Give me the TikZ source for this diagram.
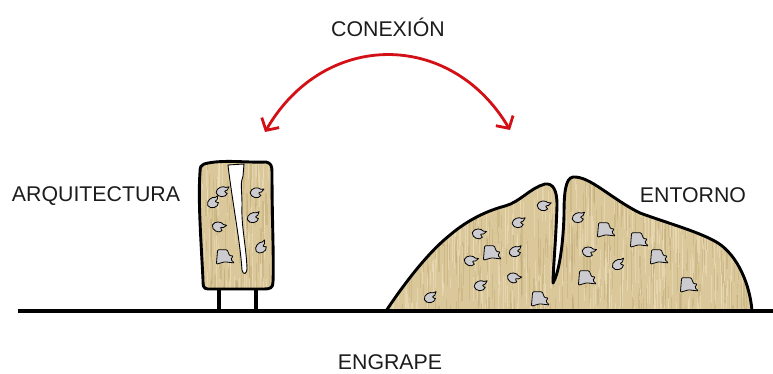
\documentclass[tikz,border=0pt]{standalone}
\usepackage{fontspec}
\setmainfont{Liberation Sans}
\usetikzlibrary{arrows.meta}

\definecolor{woodtan}{RGB}{218,200,154}
\definecolor{wooddark}{RGB}{188,163,112}
\definecolor{woodlight}{RGB}{238,225,192}
\definecolor{stonegrey}{RGB}{204,204,208}
\definecolor{arrowred}{RGB}{210,16,22}
\definecolor{inkgrey}{RGB}{28,28,28}

% outlines reused for fill, clip and stroke
\newcommand{\blockoutline}{(204,164) .. controls (222,159) and (248,163) .. (266,162)
  .. controls (271,163) and (272,166) .. (272,172)
  .. controls (272,220) and (274,260) .. (273,282)
  .. controls (273,288) and (270,289) .. (264,289) -- (208,289)
  .. controls (203,289) and (203,285) .. (203,280)
  .. controls (201,240) and (198,200) .. (200,172)
  .. controls (200,167) and (201,165) .. (204,164) -- cycle}
\newcommand{\blockcrack}{(228,165) .. controls (232,200) and (240,240) .. (242,270)
  .. controls (243,275) and (247,275) .. (247,268)
  .. controls (246,245) and (241,225) .. (242,205)
  .. controls (242,190) and (240,183) .. (243,176) -- (244,164) -- cycle}
\newcommand{\moundoutline}{(386,311) .. controls (400,290) and (425,255) .. (450,235)
  .. controls (470,218) and (490,210) .. (505,206)
  .. controls (520,202) and (530,188) .. (545,184)
  .. controls (553,183) and (557,190) .. (557,205)
  .. controls (556,240) and (553,270) .. (553,283)
  .. controls (558,275) and (563,250) .. (564,215)
  .. controls (564,195) and (565,178) .. (573,177)
  .. controls (590,176) and (610,198) .. (640,213)
  .. controls (670,224) and (700,232) .. (718,243)
  .. controls (738,256) and (750,285) .. (752,311) -- cycle}

\tikzset{
  x=1pt, y=-1pt,
  outline/.style={draw=black, line width=2.9pt, line join=round},
  crackfill/.style={fill=white, draw=black, line width=0.9pt, line join=round},
  groundline/.style={draw=black, line width=4.5pt},
  legline/.style={draw=black, line width=3.6pt},
  stone/.style={fill=stonegrey, draw=black, line width=0.8pt, line join=round},
  caption/.style={font=\fontsize{21.3}{24}\selectfont, text=inkgrey, anchor=base, inner sep=0pt},
  linkarc/.style={draw=arrowred, line width=2.8pt,
    arrows={Straight Barb[length=9pt,width=20pt]-Straight Barb[length=9pt,width=20pt]}},
  pebble/.pic={\path[stone, scale=1.3] (4,-1.5) .. controls (1.5,-0.5) .. (4,1.2)
      .. controls (3,4.5) and (-3.5,4.5) .. (-4.5,0.5)
      .. controls (-4.5,-3.5) and (1,-5) .. (3,-3.5) -- (5.5,-4) -- cycle;},
  rockbit/.pic={\path[stone, scale=1.2, rounded corners=1pt] (-7,-6) -- (1,-6) -- (3,-1) -- (6,-1)
      -- (4,2) -- (7,5) -- (-1,4) -- (-8,6) -- cycle;},
}

\newcommand{\woodgrain}[4]{% x0, width, y0, height
  \foreach \i in {1,...,#2} {
    \pgfmathsetmacro\gx{#1+#2*rnd}
    \pgfmathsetmacro\gy{#3+#4*rnd}
    \pgfmathsetmacro\gl{8+35*rnd}
    \pgfmathsetmacro\gw{0.4+1.2*rnd}
    \draw[wooddark, opacity=0.4, line width=\gw pt] (\gx,\gy) -- ++(0,\gl);
    \pgfmathsetmacro\hx{#1+#2*rnd}
    \pgfmathsetmacro\hy{#3+#4*rnd}
    \draw[woodlight, opacity=0.55, line width=0.9pt] (\hx,\hy) -- ++(0,\gl);
  }}

\begin{document}
\begin{tikzpicture}
\pgfmathsetseed{17}
\useasboundingbox[fill=white] (0,0) rectangle (773,374);

% ground line end points and arrow end points
\coordinate (gl) at (18,311);
\coordinate (gr) at (773,311);
\coordinate (archtop) at (265,132);
\coordinate (envtop) at (510,130);

% --- architecture block ---
\fill[woodtan] \blockoutline;
\begin{scope}
  \clip \blockoutline;
  \woodgrain{198}{78}{150}{145}
\end{scope}
\path[crackfill] \blockcrack;
\path[outline] \blockoutline;
\coordinate (legA) at (219,289);
\coordinate (legB) at (256,289);
\coordinate (footA) at (219,311);
\coordinate (footB) at (256,311);
\draw[legline] (legA) -- (footA);
\draw[legline] (legB) -- (footB);

\pic at (222,192) {pebble};
\pic[rotate=20] at (213,203) {pebble};
\pic[rotate=-10] at (256,193) {pebble};
\pic[rotate=10] at (253,218) {pebble};
\pic[rotate=-25] at (218,227) {pebble};
\pic[rotate=30] at (261,248) {pebble};
\pic at (226,257) {rockbit};

% --- surrounding mound ---
\fill[woodtan] \moundoutline;
\begin{scope}
  \clip \moundoutline;
  \woodgrain{384}{370}{170}{145}
\end{scope}
\path[outline] \moundoutline;

\pic[rotate=-15] at (543,206) {pebble};
\pic at (518,223) {pebble};
\pic[rotate=-20] at (478,234) {pebble};
\pic[rotate=10] at (515,252) {pebble};
\pic[rotate=-20] at (470,261) {pebble};
\pic[rotate=-30] at (513,278) {pebble};
\pic at (480,286) {pebble};
\pic[rotate=10] at (430,298) {pebble};
\pic[rotate=5] at (578,218) {pebble};
\pic[rotate=-20] at (588,252) {pebble};
\pic[rotate=15] at (618,265) {pebble};

\pic at (493,253) {rockbit};
\pic at (541,299) {rockbit};
\pic at (588,278) {rockbit};
\pic at (607,230) {rockbit};
\pic at (640,240) {rockbit};
\pic at (660,257) {rockbit};
\pic at (690,285) {rockbit};

% --- ground ---
\draw[groundline] (gl) -- (gr);

% --- connection arrow ---
\draw[linkarc] (archtop) .. controls (324,30) and (451,30) .. (envtop);

% --- labels ---
\node[caption] (conexion) at (388,37) {CONEXIÓN};
\node[caption] (arq) at (96,201) {ARQUITECTURA};
\node[caption] (entorno) at (693,202) {ENTORNO};
\node[caption] (engrape) at (390,369) {ENGRAPE};
\end{tikzpicture}
\end{document}
